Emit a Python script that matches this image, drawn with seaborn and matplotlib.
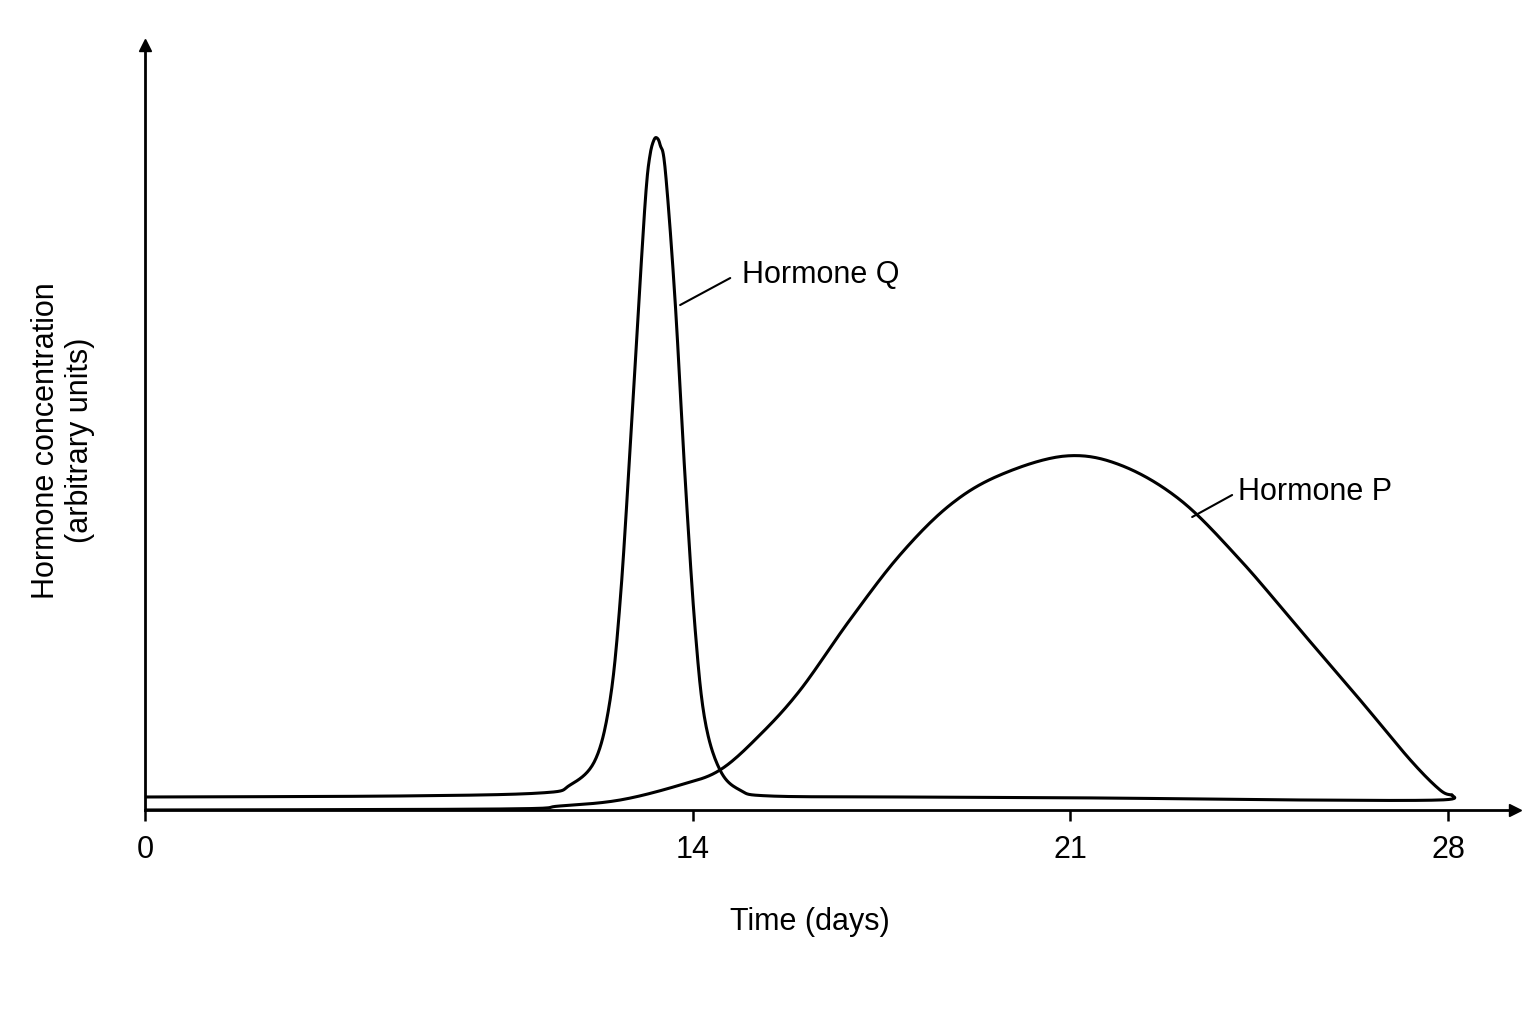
import numpy as np
import matplotlib
matplotlib.use("Agg")
import matplotlib.pyplot as plt
import seaborn as sns

sns.set_style("white")
plt.rcParams['font.family'] = ['Liberation Sans', 'DejaVu Sans']
plt.rcParams['text.color'] = 'black'
plt.rcParams['xtick.color'] = 'black'

# Hormone Q (days, arbitrary units)
q_days = [0, 6.5, 10.1, 10.86, 11.5, 11.88, 12.14, 12.39, 12.65, 12.8, 12.9, 13.0, 13.08,
          13.16, 13.29, 13.54, 13.8, 14.04, 14.22, 14.5, 14.87, 15.43, 17.84, 21.56, 25.26, 27.85, 28.07]
q_conc = [13, 14, 17, 25, 50, 110, 210, 360, 530, 620, 655, 670, 672,
          665, 640, 510, 330, 180, 90, 40, 20, 14, 13, 12, 10, 10, 15]

# Hormone P
p_days = [0, 9.07, 10.6, 12.14, 13.67, 14.5, 15.24, 15.99, 16.91, 17.84, 18.77, 19.7, 20.91,
          21.93, 23.04, 24.15, 25.26, 26.37, 27.3, 27.85, 28.07]
p_conc = [0, 1, 4, 10, 25, 40, 75, 120, 190, 255, 305, 335, 354,
          345, 310, 250, 180, 110, 50, 20, 15]

tick_days = [0, 14, 21, 28]
tick_pos = [0, 548, 925, 1303]

def fwd(d):
    d = np.asarray(d, dtype=float)
    return np.interp(d, tick_days, tick_pos) + \
        np.where(d > 28, (d - 28) * 54, 0) + np.where(d < 0, d * 39.14, 0)

def inv(p):
    p = np.asarray(p, dtype=float)
    return np.interp(p, tick_pos, tick_days) + \
        np.where(p > 1303, (p - 1303) / 54, 0) + np.where(p < 0, p / 39.14, 0)

def smooth(xs, ys, n=20):
    # Catmull-Rom drawing of the read points, done in screen-like space
    px = fwd(xs); py = np.asarray(ys, float)
    P = np.column_stack([px, py])
    P = np.vstack([P[0], P, P[-1]])
    out = []
    for i in range(1, len(P) - 2):
        p0, p1, p2, p3 = P[i - 1], P[i], P[i + 1], P[i + 2]
        for t in np.linspace(0, 1, n, endpoint=False):
            t2, t3 = t * t, t * t * t
            out.append(0.5 * (2 * p1 + (-p0 + p2) * t + (2 * p0 - 5 * p1 + 4 * p2 - p3) * t2
                              + (-p0 + 3 * p1 - 3 * p2 + p3) * t3))
    out.append(P[-2])
    out = np.array(out)
    return inv(out[:, 0]), out[:, 1]

fig = plt.figure(figsize=(15.36, 10.24), dpi=100)
ax = fig.add_axes([0.0944, 0.209, 0.892, 0.747])
ax.set_xscale('function', functions=(fwd, inv))

qx, qy = smooth(q_days, q_conc)
px_, py_ = smooth(p_days, p_conc)
sns.lineplot(x=qx, y=qy, ax=ax, color='black', lw=2.2, sort=False, estimator=None)
sns.lineplot(x=px_, y=py_, ax=ax, color='black', lw=2.2, sort=False, estimator=None)

ax.set_xlim(0, 29.24)
ax.set_ylim(0, 765)
for s in ['top', 'right']:
    ax.spines[s].set_visible(False)
for s in ['left', 'bottom']:
    ax.spines[s].set_linewidth(2)
    ax.spines[s].set_color('black')
ax.plot(1, 0, '>k', ms=9, transform=ax.transAxes, clip_on=False)
ax.plot(0, 1, '^k', ms=9, transform=ax.transAxes, clip_on=False)

ax.set_xticks(tick_days)
ax.set_xticklabels([str(t) for t in tick_days], fontsize=22)
ax.set_yticks([])
ax.tick_params(axis='x', direction='out', length=8, width=1.8, pad=10, bottom=True)

# labels for curves
ax.plot([13.67, 14.69], [505, 532], color='black', lw=1.5)
ax.text(14.91, 535, 'Hormone Q', fontsize=22, va='center', ha='left')
ax.plot([23.26, 24.0], [293, 315], color='black', lw=1.5)
ax.text(24.11, 318, 'Hormone P', fontsize=22, va='center', ha='left')

fig.text(0.527, 0.1, 'Time (days)', fontsize=22, ha='center', va='center')
fig.text(0.041, 0.57, 'Hormone concentration\n(arbitrary units)', fontsize=22,
         rotation=90, ha='center', va='center')

fig.savefig('out.png', dpi=100)
